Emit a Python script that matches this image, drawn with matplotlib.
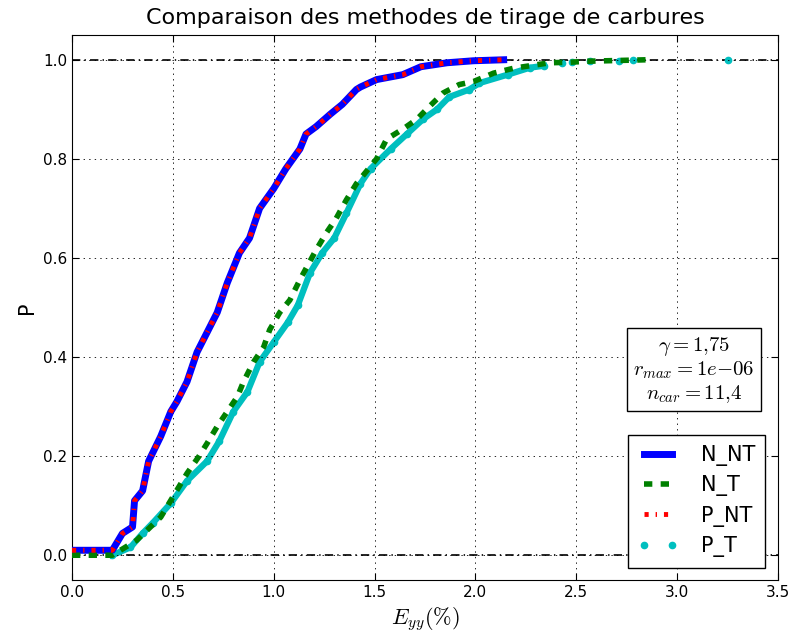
import matplotlib
matplotlib.use("Agg")
import matplotlib.pyplot as plt
from matplotlib.lines import Line2D

plt.rcParams['lines.scale_dashes'] = False
plt.rcParams['lines.dotted_pattern'] = [1, 3]
plt.rcParams['lines.dashed_pattern'] = [6, 6]
plt.rcParams['lines.dashdot_pattern'] = [3, 5, 1, 5]
plt.rcParams['mathtext.fontset'] = 'cm'
plt.rcParams['font.family'] = ['DejaVu Sans']

# ---------------- data ----------------
title = "Comparaison des methodes de tirage de carbures"
labels = ["N_NT", "N_T", "P_NT", "P_T"]

nnt_x = [0.00, 0.20, 0.25, 0.30, 0.31, 0.35, 0.38, 0.44, 0.49, 0.52, 0.57, 0.62, 0.67,
         0.72, 0.77, 0.83, 0.88, 0.93, 1.00, 1.06, 1.13, 1.16, 1.21, 1.28, 1.34, 1.41,
         1.43, 1.51, 1.64, 1.73, 1.86, 1.99, 2.14]
nnt_p = [0.010, 0.010, 0.044, 0.057, 0.110, 0.130, 0.190, 0.240, 0.290, 0.310, 0.350,
         0.410, 0.450, 0.490, 0.550, 0.610, 0.640, 0.700, 0.740, 0.780, 0.820, 0.850,
         0.865, 0.890, 0.910, 0.940, 0.945, 0.960, 0.970, 0.986, 0.994, 0.998, 1.000]

nt_x = [0.00, 0.20, 0.32, 0.44, 0.57, 0.63, 0.67, 0.72, 0.77, 0.82, 0.85, 0.90, 0.95,
        0.98, 1.03, 1.08, 1.13, 1.21, 1.26, 1.31, 1.36, 1.41, 1.51, 1.56, 1.64, 1.71,
        1.77, 1.84, 1.92, 1.99, 2.09, 2.19, 2.37, 2.47, 2.55, 2.65, 2.85]
nt_p = [0.000, 0.000, 0.030, 0.077, 0.165, 0.200, 0.226, 0.260, 0.290, 0.320, 0.350,
        0.390, 0.420, 0.455, 0.490, 0.515, 0.556, 0.616, 0.650, 0.680, 0.717, 0.750,
        0.800, 0.840, 0.860, 0.880, 0.905, 0.933, 0.950, 0.956, 0.973, 0.983, 0.994,
        0.995, 0.997, 0.998, 1.000]

pnt_x = nnt_x
pnt_p = nnt_p

pt_x = [0.20, 0.29, 0.35, 0.40, 0.49, 0.57, 0.67, 0.73, 0.80, 0.87, 0.93, 1.00, 1.07,
        1.12, 1.18, 1.24, 1.30, 1.36, 1.43, 1.48, 1.58, 1.66, 1.74, 1.81, 1.87, 1.97,
        2.02, 2.16, 2.27, 2.34, 2.43, 2.48, 2.57, 2.71, 2.78, 3.25]
pt_p = [0.000, 0.016, 0.044, 0.065, 0.105, 0.150, 0.190, 0.230, 0.290, 0.330, 0.390,
        0.430, 0.470, 0.505, 0.570, 0.610, 0.640, 0.690, 0.750, 0.780, 0.820, 0.850,
        0.880, 0.900, 0.925, 0.940, 0.953, 0.970, 0.984, 0.988, 0.994, 0.995, 0.997,
        0.998, 0.999, 1.000]
pt_dense = 30  # index where the P_T sample becomes sparse

xticks = [0.0, 0.5, 1.0, 1.5, 2.0, 2.5, 3.0, 3.5]
yticks = [0.0, 0.2, 0.4, 0.6, 0.8, 1.0]
params_text = "$\\gamma=1{,}75$\n$r_{max}=1e{-}06$\n$n_{car}=11{,}4$"

# ---------------- figure ----------------
fig = plt.figure(figsize=(7.92, 6.39), dpi=100)
ax = fig.add_axes([72/792, 59/639, 706/792, 545/639])

ax.axhline(0, color='k', lw=1.2, dashes=(6, 3, 1, 3), zorder=1)
ax.axhline(1, color='k', lw=1.2, dashes=(6, 3, 1, 3), zorder=1)

ax.plot(nnt_x, nnt_p, color='b', lw=5, zorder=3)
ax.plot(nt_x, nt_p, color='g', lw=4.0, ls='--', zorder=3)
ax.plot(pnt_x, pnt_p, color='r', lw=3.5, ls='-.', zorder=4)
ax.plot(pt_x[:pt_dense], pt_p[:pt_dense], color='c', lw=4.5, zorder=2)
ax.plot(pt_x, pt_p, color='c', ls='none', marker='.', ms=9, zorder=2)

ax.set_xlim(0, 3.5)
ax.set_ylim(-0.05, 1.05)
ax.set_xticks(xticks)
ax.set_yticks(yticks)
ax.set_xticklabels([f"{t:.1f}" for t in xticks])
ax.set_yticklabels([f"{t:.1f}" for t in yticks])
ax.tick_params(direction='in', top=True, right=True, length=5, labelsize=11)
ax.grid(True, color='k', ls=':', lw=0.6)
ax.set_axisbelow(False)

ax.set_title(title, fontsize=16, pad=8)
ax.set_xlabel("$E_{yy}(\\%)$", fontsize=16)
ax.set_ylabel("P", fontsize=15)

handles = [Line2D([], [], color='b', lw=5),
           Line2D([], [], color='g', lw=4.0, ls='--'),
           Line2D([], [], color='r', lw=3.5, ls='-.'),
           Line2D([], [], color='c', ls='none', marker='.', ms=9)]
leg = ax.legend(handles, labels, loc='lower right', fontsize=15, numpoints=2,
                handlelength=1.9, handletextpad=1.1, borderaxespad=0.6, borderpad=0.5,
                fancybox=False, framealpha=1, edgecolor='k', labelspacing=0.45)
leg.get_frame().set_linewidth(1.0)

ax.text(0.881, 0.385, params_text, transform=ax.transAxes, ha='center', va='center',
        multialignment='center', fontsize=15, linespacing=1.1,
        bbox=dict(boxstyle='square,pad=0.3', fc='w', ec='k', lw=1.0), zorder=6)

fig.savefig("out.png", dpi=100)
